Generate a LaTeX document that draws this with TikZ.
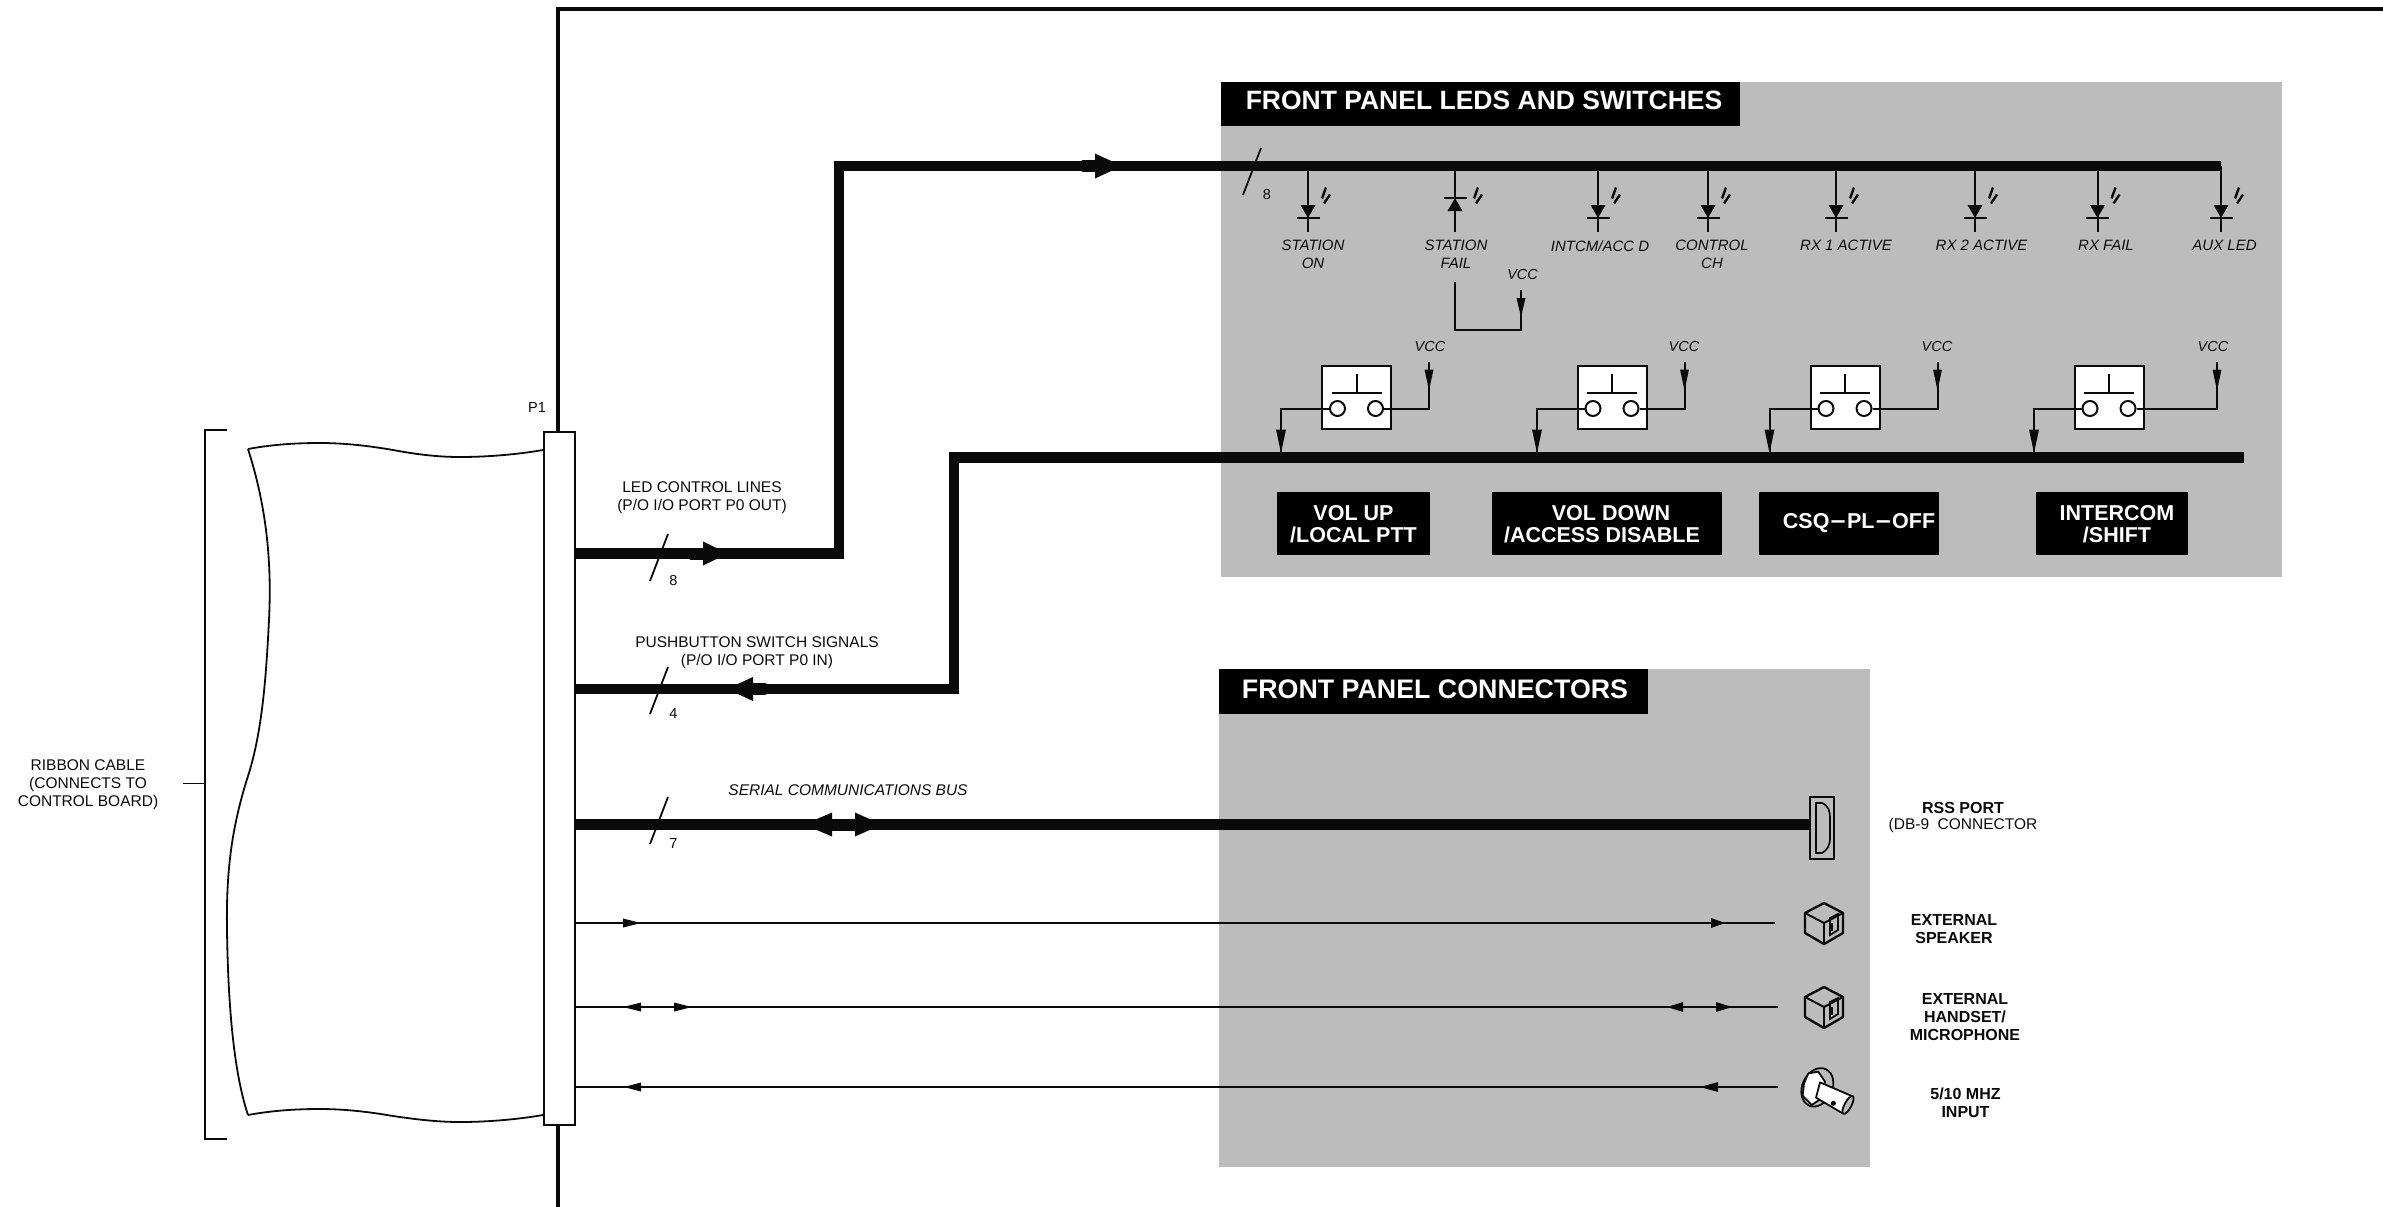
\documentclass[tikz,border=0pt]{standalone}
\usepackage{fontspec}
\setmainfont{Liberation Sans}
\definecolor{panelgray}{HTML}{BCBCBC}
\definecolor{ink}{HTML}{0A0A0A}
\newcommand{\hTip}[4]{\fill[ink] (#1,#3) -- (#2,#3-#4) -- (#2,#3+#4) -- cycle;}
\newcommand{\vTip}[4]{\fill[ink] (#1,#2) -- (#1-#4,#3) -- (#1+#4,#3) -- cycle;}
\newcommand{\fsz}[2]{\fontsize{#1}{#2}\selectfont}
\tikzset{
  x=1pt,y=-1pt,
  panel/.style={fill=panelgray,draw=none},
  titlebar/.style={fill=black,text=white,inner sep=0pt,font=\bfseries\fsz{26.8}{30}},
  namebox/.style={fill=black,draw=none,minimum height=63pt,inner sep=0pt},
  nametext/.style={text=white,inner sep=0pt,align=center,font=\bfseries\fsz{21.5}{22.5}},
  bus/.style={line width=10.2pt,draw=ink},
  wire/.style={line width=2pt,draw=ink},
  thin wire/.style={line width=1.8pt,draw=ink},
  lbl/.style={inner sep=0pt,align=center,text=ink,font=\fsz{15.5}{18}},
  ital/.style={inner sep=0pt,align=center,text=ink,font=\itshape\fsz{15}{18}},
  blbl/.style={inner sep=0pt,align=center,text=ink,font=\bfseries\fsz{16}{18}},
  swbox/.style={draw=ink,line width=2pt,fill=white,minimum width=69pt,minimum height=63pt,inner sep=0pt},
  contact/.style={circle,draw=ink,line width=2pt,fill=white,minimum size=15pt,inner sep=0pt},
}
\begin{document}
\begin{tikzpicture}
\useasboundingbox (0,0) rectangle (2383,1207);
% panels
\fill[panel] (1221,82) rectangle (2282,577);
\fill[panel] (1219,669) rectangle (1870,1167);
% outer frame
\coordinate (frameTR) at (2383,9);
\coordinate (frameTL) at (558,9);
\coordinate (frameBL) at (558,1207);
\draw[ink,line width=4pt] (frameTR) -- (frameTL) -- (frameBL);
% ribbon
\draw[thin wire] (248,449) .. controls (275,444) and (300,443) .. (320,443) .. controls (345,443) and (370,446) .. (393,450) .. controls (420,455) and (440,457) .. (460,457) .. controls (490,457) and (520,454) .. (543,450);
\draw[thin wire] (248,1115) .. controls (275,1110) and (300,1109) .. (320,1109) .. controls (345,1109) and (370,1112) .. (393,1116) .. controls (420,1120) and (440,1122) .. (460,1122) .. controls (490,1122) and (520,1119) .. (543,1115);
\draw[thin wire] (248,449) .. controls (266,505) and (272,560) .. (269,620) .. controls (266,680) and (262,730) .. (249,773) .. controls (232,825) and (226,870) .. (227,930) .. controls (228,1000) and (233,1070) .. (248,1115);
% bracket
\draw[thin wire] (227,430) -- (205,430) -- (205,1139) -- (227,1139);
\coordinate (brkMid) at (205,783.5);
\coordinate (brkEnd) at (183,783.5);
\draw[thin wire] (brkEnd) -- (brkMid);
\node[lbl] (ribbon) at (88,785) {RIBBON CABLE\\(CONNECTS TO\\CONTROL BOARD)};
% P1
\node[draw=ink,line width=2pt,fill=white,minimum width=31pt,minimum height=693pt,inner sep=0pt] (p1) at (559,778.5) {};
\node[lbl,font=\fsz{14.5}{18}] (p1lbl) at (537,408) {P1};
% titles
\node[fill=black,minimum width=519pt,minimum height=44pt,inner sep=0pt] (tLed) at (1480.5,104) {};
\node[titlebar,font=\bfseries\fsz{26.5}{30}] (tLedt) at (1484,100.5) {FRONT PANEL LEDS AND SWITCHES};
\node[fill=black,minimum width=429pt,minimum height=45pt,inner sep=0pt] (tCon) at (1433.5,691.5) {};
\node[titlebar] (tCont) at (1435,689) {FRONT PANEL CONNECTORS};
% LED bus
\coordinate (busAstart) at (p1.east |- 0,553.5);
\coordinate (busAturn1) at (839,553.5);
\coordinate (busAturn2) at (839,166);
\coordinate (busAend) at (2221,166);
\draw[bus,line join=miter] (busAstart) -- (busAturn1) -- (busAturn2) -- (busAend);
\hTip{728}{703}{553.5}{12}
\fill[ink] (690,547.5) rectangle (705,559.5);
\hTip{1122}{1095}{166}{12.5}
\fill[ink] (1082,160) rectangle (1097,172);
% switch bus
\coordinate (busBstart) at (p1.east |- 0,689);
\coordinate (busBturn1) at (954,689);
\coordinate (busBturn2) at (954,457.5);
\coordinate (busBend) at (2244,457.5);
\draw[bus,line join=miter] (busBstart) -- (busBturn1) -- (busBturn2) -- (busBend);
\hTip{727}{753}{689}{12}
\fill[ink] (751,683) rectangle (766,695);
% serial bus
\node[draw=ink,line width=2pt,fill=none,minimum width=24pt,minimum height=62pt,inner sep=0pt] (rss) at (1822,828) {};
\coordinate (busCstart) at (p1.east |- 0,824.5);
\draw[bus] (busCstart) -- (rss.west |- busCstart);
\hTip{804}{832}{824.5}{12}
\hTip{882}{855}{824.5}{12}
\fill[ink] (830,818.5) rectangle (857,830.5);
\draw[wire,line width=1.7pt] (1816,803) -- (1822,803) .. controls (1829,806) and (1830,812) .. (1830,818) -- (1830,838) .. controls (1830,846) and (1827,850) .. (1822,853) -- (1816,853) -- cycle;
% bus slashes
\foreach \n/\y/\t in {s8/534/8,s4/667/4,s7/797/7}{
  \coordinate (\n a) at (668,\y);
  \coordinate (\n b) at (650,\y+47);
  \draw[thin wire] (\n a) -- (\n b);
  \node[lbl,font=\fsz{14.5}{18}] (\n l) at (673.5,\y+46.5) {\t};
}
\coordinate (s9a) at (1261,148); \coordinate (s9b) at (1243,195);
\draw[thin wire] (s9a) -- (s9b);
\node[lbl,font=\fsz{14.5}{18}] (s9l) at (1267,195) {8};
% bus labels
\node[lbl] (ledlines) at (702,497.5) {LED CONTROL LINES\\(P/O I/O PORT P0 OUT)};
\node[lbl] (pblines) at (757,652.5) {PUSHBUTTON SWITCH SIGNALS\\(P/O I/O PORT P0 IN)};
\node[ital,font=\itshape\fsz{15.5}{18}] (serlbl) at (848,790) {SERIAL COMMUNICATIONS BUS};
% LEDs pointing down
\foreach \n/\x/\lx/\txt in {ledA/1308/1313/{STATION\\ON},ledC/1598/1600/{INTCM/ACC D},ledD/1708/1712/{CONTROL\\CH},ledE/1836/1846/{RX 1 ACTIVE},ledF/1975/1981.5/{RX 2 ACTIVE},ledG/2097.5/2106/{RX FAIL},ledH/2221/2224.5/{AUX LED}}{
  \coordinate (\n) at (\x,232);
  \draw[wire] (\n |- busAend) -- (\n);
  \vTip{\x}{218}{205}{7.5}
  \draw[wire,line width=2.4pt] (\x-11.5,218) -- (\x+11.5,218);
  \draw[ink,line width=2.4pt] (\x+14,198.5) -- (\x+18,187.5);
  \draw[ink,line width=2.4pt] (\x+16,203.5) -- (\x+22,194.5);
  \node[ital,anchor=north] (\n t) at (\lx,240) {\txt};
}
% reversed LED
\coordinate (ledB) at (1455,232);
\draw[wire] (ledB |- busAend) -- (ledB);
\fill[ink] (1455,198) -- (1447.5,211) -- (1462.5,211) -- cycle;
\draw[ink,line width=2.4pt] (1443.5,198) -- (1466.5,198);
\draw[ink,line width=2.4pt] (1474,198.5) -- (1478,187.5);
\draw[ink,line width=2.4pt] (1476,203.5) -- (1482,194.5);
\node[ital,anchor=north] (ledBt) at (1456,240) {STATION\\FAIL};
% VCC for fail
\coordinate (failA) at (1455,281.5);
\coordinate (failVcc) at (1521,290);
\draw[wire] (failA) |- (1521,329.5) -- (failVcc);
\vTip{1521}{317}{298}{4.5}
\node[ital,font=\itshape\fsz{14.5}{18}] (vcc0) at (1522.6,274.5) {VCC};
% switches
\foreach \n/\cx/\lw/\rw/\vx in {swA/1356.5/1281/1429/1430,swB/1612/1537/1684.5/1684,swC/1845/1769.5/1937.5/1937,swD/2109/2034/2217/2213}{
  \node[swbox] (\n) at (\cx,397.5) {};
  \node[contact] (\n l) at (\cx-19,408.5) {};
  \node[contact] (\n r) at (\cx+19,408.5) {};
  \coordinate (\n bar) at (\cx,392.5);
  \coordinate (\n stem) at (\cx,373.5);
  \draw[wire] (\cx-25,392.5) -- (\cx+25,392.5);
  \draw[wire] (\n stem) -- (\n bar);
  \coordinate (\n lw) at (\lw,453);
  \coordinate (\n rw) at (\rw,361.5);
  \draw[wire] (\n l) -| (\n lw);
  \draw[wire] (\n r) -| (\n rw);
  \vTip{\lw}{453}{429.5}{5}
  \vTip{\rw}{390.5}{369.5}{4.5}
  \node[ital,font=\itshape\fsz{14.5}{18}] (\n v) at (\vx,346.5) {VCC};
}
% name boxes
\node[namebox,minimum width=153pt] (nbA) at (1353.5,523) {};
\node[nametext] (nbAt) at (1353.5,524) {VOL UP\\/LOCAL PTT};
\node[namebox,minimum width=230pt] (nbB) at (1607,523) {};
\node[nametext] (nbBt) at (1602,524) {\hspace{18pt}VOL DOWN\\/ACCESS DISABLE};
\node[namebox,minimum width=180pt] (nbC) at (1849,523) {};
\node[nametext] (nbCt) at (1859,523) {CSQ{\fontspec{DejaVu Sans}\fsz{21}{22}\textminus}PL{\fontspec{DejaVu Sans}\fsz{21}{22}\textminus}OFF};
\node[namebox,minimum width=152.5pt] (nbD) at (2112,523) {};
\node[nametext] (nbDt) at (2117,524) {INTERCOM\\/SHIFT};
% jacks and thin lines
\foreach \n/\y/\ex in {jackS/923/1775,jackH/1007/1778}{
  \coordinate (\n c) at (1824,\y);
  \draw[ink,line width=2.4pt,line join=round] (1824,\y-20) -- (1843,\y-10) -- (1843,\y+10) -- (1824,\y+21) -- (1805,\y+10) -- (1805,\y-10) -- cycle;
  \draw[ink,line width=2pt] (1805,\y-10) -- (\n c) -- (1843,\y-10);
  \draw[ink,line width=2pt] (\n c) -- (1824,\y+21);
  \draw[ink,line width=1.8pt] (1830,\y-5) -- (1838,\y-9) -- (1838,\y+7) -- (1830,\y+12) -- cycle;
  \fill[ink] (1829,\y) rectangle (1833,\y+8);
  \coordinate (\n e) at (\ex,\y);
  \draw[wire] (p1.east |- \n e) -- (\n e);
}
\hTip{641}{623}{923}{4.5}
\hTip{1725}{1711}{923}{5}
\hTip{623}{641}{1007}{4.5}
\hTip{692}{674}{1007}{4.5}
\hTip{1667}{1683}{1007}{5}
\hTip{1732}{1716}{1007}{5}
% 5/10 MHz
\coordinate (bncE) at (1778,1087);
\draw[wire] (p1.east |- bncE) -- (bncE);
\hTip{624}{641}{1087}{4.5}
\hTip{1700}{1718}{1087}{5}
\begin{scope}[shift={(1790,1055)},x=0.3333pt,y=-0.3333pt,line width=1.8pt]
\draw[draw=ink,fill=panelgray,rotate around={-25:(82,97)}] (82,97) ellipse (15pt and 20pt);
\draw[draw=ink,fill=white,line join=round] (55,55) -- (85,50) -- (105,80) -- (95,130) -- (65,150) -- (38,122) -- (42,85) -- cycle;
\draw[draw=ink,fill=white,line join=round] (90,82) -- (190,125) -- (158,175) -- (78,128) -- cycle;
\draw[draw=ink,fill=panelgray,rotate around={-28:(174,150)}] (174,150) ellipse (3.4pt and 10pt);
\fill[ink] (130,145) circle (2.6pt);
\end{scope}
% connector labels
\node[blbl] (lRss) at (1963,808) {RSS PORT};
\node[lbl,font=\fsz{15.5}{18}] (lRss2) at (1963,825.5) {(DB-9\ \ CONNECTOR};
\node[blbl] (lSpk) at (1954,929) {EXTERNAL\\SPEAKER};
\node[blbl] (lHand) at (1965,1017) {EXTERNAL\\HANDSET/\\MICROPHONE};
\node[blbl] (lIn) at (1965.5,1103) {5/10 MHZ\\INPUT};
\end{tikzpicture}
\end{document}
